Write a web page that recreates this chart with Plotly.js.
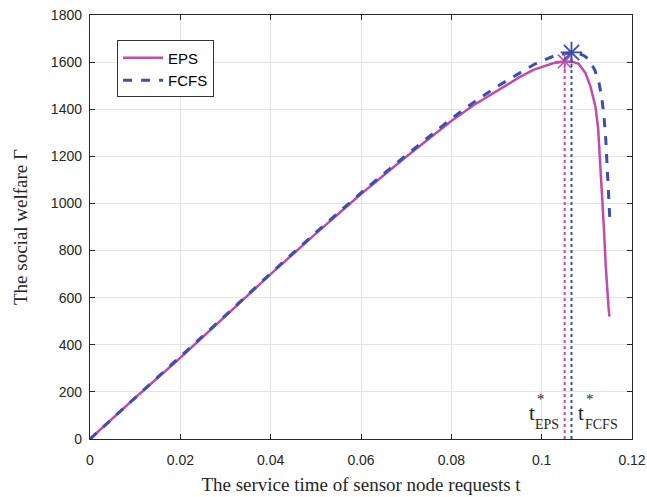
<!DOCTYPE html>
<html>
<head>
<meta charset="utf-8">
<script src="https://cdn.plot.ly/plotly-3.0.1.min.js"></script>
<style>html,body{margin:0;padding:0;background:#fff}#chart{width:647px;height:497px}</style>
</head>
<body>
<div id="chart"></div>
<script>
// Data
const epsT = [0, 0.01, 0.02, 0.03, 0.04, 0.05, 0.06, 0.07, 0.08, 0.085, 0.09, 0.095, 0.0983, 0.1, 0.1025, 0.1051, 0.107, 0.1082, 0.1097, 0.1108, 0.1119, 0.1125, 0.1130, 0.1134, 0.1138, 0.1142, 0.1145, 0.1148, 0.1150];
const epsY = [0, 175, 345, 523, 700, 872, 1040, 1198, 1350, 1418, 1478, 1535, 1568, 1580, 1595, 1603, 1600, 1593, 1553, 1497, 1412, 1320, 1171, 1030, 888, 730, 620, 560, 520];
const fcfsT = [0, 0.01, 0.02, 0.03, 0.04, 0.05, 0.06, 0.07, 0.08, 0.085, 0.09, 0.095, 0.0983, 0.1, 0.103, 0.1066, 0.108, 0.1095, 0.1105, 0.1118, 0.1127, 0.1133, 0.1138, 0.1142, 0.1145, 0.1148, 0.1151];
const fcfsY = [0, 175, 346, 525, 703, 877, 1045, 1205, 1360, 1430, 1495, 1552, 1590, 1605, 1628, 1641, 1638, 1626, 1610, 1565, 1511, 1450, 1369, 1270, 1171, 1050, 930];
const epsPeak = {t: 0.1051, y: 1603};
const fcfsPeak = {t: 0.1066, y: 1641};
const xTicks = [0, 0.02, 0.04, 0.06, 0.08, 0.1, 0.12];
const xTickText = ['0', '0.02', '0.04', '0.06', '0.08', '0.1', '0.12'];
const yTicks = [0, 200, 400, 600, 800, 1000, 1200, 1400, 1600, 1800];

const EPS_C = '#C04BAA';
const FCFS_C = '#3A4FB0';

const traces = [
  {x: epsT, y: epsY, mode: 'lines', name: 'EPS', line: {color: EPS_C, width: 2.5}},
  {x: fcfsT, y: fcfsY, mode: 'lines', name: 'FCFS', line: {color: FCFS_C, width: 3, dash: 'dash'}},
  {x: [epsPeak.t, epsPeak.t], y: [0, epsPeak.y], mode: 'lines', showlegend: false, line: {color: EPS_C, width: 2, dash: 'dot'}},
  {x: [fcfsPeak.t, fcfsPeak.t], y: [0, fcfsPeak.y], mode: 'lines', showlegend: false, line: {color: FCFS_C, width: 2, dash: 'dot'}},
  {x: [epsPeak.t], y: [epsPeak.y], mode: 'markers', showlegend: false, marker: {symbol: 'asterisk-open', size: 16, color: EPS_C, line: {color: EPS_C, width: 1.5}}},
  {x: [fcfsPeak.t], y: [fcfsPeak.y], mode: 'markers', showlegend: false, marker: {symbol: 'asterisk-open', size: 18, color: FCFS_C, line: {color: FCFS_C, width: 1.8}}}
];

const serif = 'Liberation Serif, Times New Roman, serif';
const sans = 'Liberation Sans, Arial, sans-serif';

const layout = {
  width: 647, height: 497,
  margin: {l: 90, r: 15, t: 15, b: 58},
  paper_bgcolor: '#fff', plot_bgcolor: '#fff',
  showlegend: true,
  legend: {x: 0.05, y: 0.94, xanchor: 'left', yanchor: 'top', bgcolor: '#fff', bordercolor: '#333', borderwidth: 1,
           font: {family: sans, size: 15, color: '#000'}, tracegroupgap: 0, itemwidth: 40},
  xaxis: {
    range: [0, 0.12], tickvals: xTicks, ticktext: xTickText,
    showline: true, mirror: 'ticks', linecolor: '#262626', linewidth: 1.2,
    ticks: 'inside', ticklen: 5, tickcolor: '#262626', ticklabelstandoff: 8,
    showgrid: true, gridcolor: '#e3e3e3', zeroline: false,
    tickfont: {family: sans, size: 14, color: '#262626'},
    title: {text: 'The service time of sensor node requests t', font: {family: serif, size: 19, color: '#262626'}, standoff: 10}
  },
  yaxis: {
    range: [0, 1800], tickvals: yTicks,
    showline: true, mirror: 'ticks', linecolor: '#262626', linewidth: 1.2,
    ticks: 'inside', ticklen: 5, tickcolor: '#262626', ticklabelstandoff: 4,
    showgrid: true, gridcolor: '#e3e3e3', zeroline: false,
    tickfont: {family: sans, size: 14, color: '#262626'},
    title: {text: 'The social welfare Γ', font: {family: serif, size: 19, color: '#262626'}, standoff: 18}
  },
  annotations: [
    {xref: 'x', yref: 'y', x: 0.0978, y: 112, text: 't', showarrow: false, font: {family: serif, size: 21, color: '#262626'}},
    {xref: 'x', yref: 'y', x: 0.0998, y: 168, text: '*', showarrow: false, font: {family: serif, size: 15, color: '#262626'}},
    {xref: 'x', yref: 'y', x: 0.1012, y: 60, text: 'EPS', showarrow: false, font: {family: serif, size: 14, color: '#262626'}},
    {xref: 'x', yref: 'y', x: 0.1088, y: 112, text: 't', showarrow: false, font: {family: serif, size: 21, color: '#262626'}},
    {xref: 'x', yref: 'y', x: 0.1108, y: 168, text: '*', showarrow: false, font: {family: serif, size: 15, color: '#262626'}},
    {xref: 'x', yref: 'y', x: 0.1132, y: 60, text: 'FCFS', showarrow: false, font: {family: serif, size: 14, color: '#262626'}}
  ]
};

Plotly.newPlot('chart', traces, layout, {displayModeBar: false, staticPlot: true});
</script>
</body>
</html>
